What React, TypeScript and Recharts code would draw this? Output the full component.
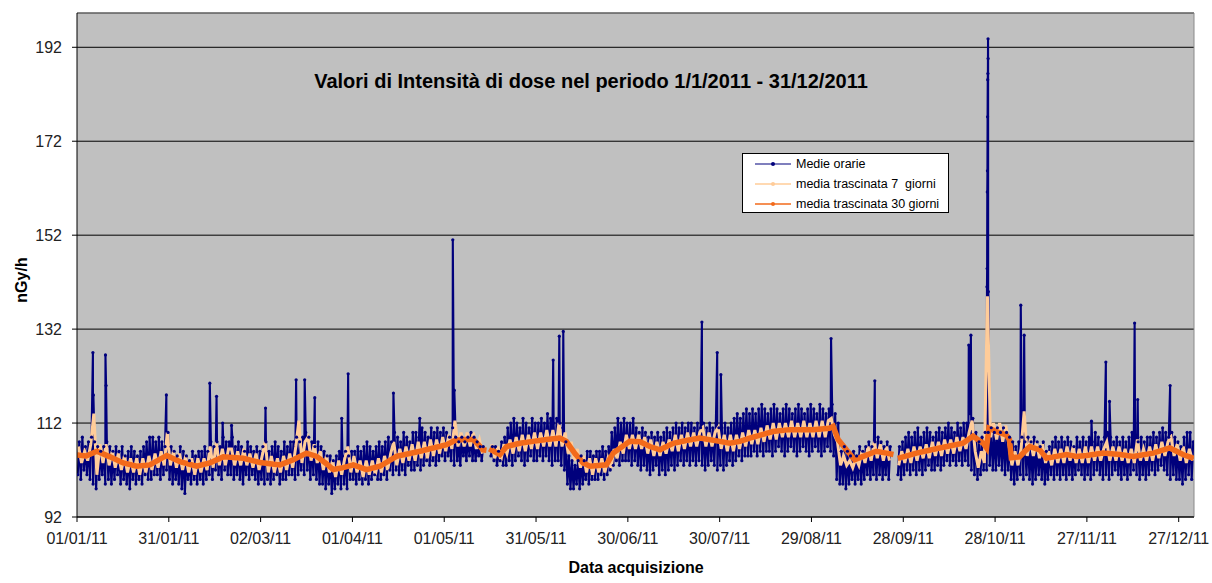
import { LineChart, Line, XAxis, YAxis, CartesianGrid, ReferenceLine } from 'recharts';

// asse x: giorni dal 01/01/2011
const tickDays = [0, 30, 60, 90, 120, 150, 180, 210, 240, 270, 300, 330, 360];
const tickLabels = [
  '01/01/11', '31/01/11', '02/03/11', '01/04/11', '01/05/11', '31/05/11', '30/06/11',
  '30/07/11', '29/08/11', '28/09/11', '28/10/11', '27/11/11', '27/12/11'
];
const yTicks = [92, 112, 132, 152, 172, 192];

// medie orarie: minimo e massimo letti per ogni giorno (nGy/h)
const dailyLow = [
  101, 100, 102, 101, 100, 99, 98, 100, 101, 99,
  100, 99, 100, 101, 99, 100, 99, 98, 100, 99,
  100, 99, 101, 100, 100, 101, 101, 100, 101, 102,
  100, 99, 100, 99, 98, 97, 100, 99, 100, 99,
  100, 99, 100, 101, 100, 102, 101, 100, 102, 101,
  101, 100, 101, 100, 99, 101, 100, 101, 100, 99,
  100, 99, 100, 99, 100, 101, 99, 100, 100, 101,
  101, 100, 101, 102, 101, 102, 100, 101, 100, 99,
  99, 98, 99, 97, 98, 99, 98, 99, 98, 100,
  100, 99, 100, 99, 100, 99, 100, 101, 100, 100,
  101, 100, 102, 101, 102, 101, 102, 101, 103, 102,
  102, 103, 102, 103, 104, 103, 104, 103, 104, 105,
  104, 105, 104, 103, 104, 103, 105, 104, 105, 104,
  104, 105, 104, null, null, 105, 104, 103, 104, 103,
  103, 104, 103, 104, 105, 104, 103, 104, 105, 104,
  104, 105, 104, 105, 104, 103, 104, 104, 103, 102,
  99, 98, 98, 99, 98, 99, 100, 99, 100, 100,
  100, 101, 100, 101, 102, 103, 104, 103, 104, 104,
  104, 103, 104, 103, 102, 103, 102, 101, 102, 103,
  101, 102, 101, 102, 103, 102, 103, 104, 103, 104,
  103, 104, 103, 104, 103, 102, 103, 104, 103, 102,
  103, 102, 103, 104, 103, 104, 105, 104, 105, 105,
  105, 106, 105, 106, 105, 106, 106, 105, 106, 107,
  106, 105, 106, 107, 106, 105, 106, 107, 106, 105,
  106, 107, 106, 105, 106, 107, 106, 105, 100, 99,
  99, 98, 99, 100, 99, 100, 99, 100, 101, 100,
  101, 100, 101, 100, 101, 100, null, null, 101, 100,
  101, 102, 101, 102, 101, 102, 101, 102, 103, 102,
  102, 103, 102, 103, 104, 103, 104, 103, 104, 103,
  104, 103, 102, 101, 100, 101, 102, 102, 103, 102,
  102, 103, 102, 101, 102, 100, 99, 100, 101, 100,
  101, 100, 99, 100, 101, 100, 99, 100, 101, 100,
  101, 100, 101, 100, 101, 100, 101, 102, 101, 100,
  101, 100, 101, 102, 101, 100, 101, 100, 101, 102,
  101, 100, 101, 100, 101, 102, 101, 100, 101, 100,
  101, 102, 101, 102, 103, 102, 101, 100, 101, 100,
  100, 99, 100, 101, 100
];
const dailyHigh = [
  108, 109, 107, 108, 109, 108, 107, 106, 107, 108,
  107, 106, 107, 106, 107, 105, 106, 107, 106, 105,
  106, 107, 108, 109, 109, 108, 109, 108, 107, 110,
  107, 106, 105, 107, 106, 105, 104, 106, 105, 106,
  106, 107, 106, 108, 107, 108, 107, 109, 108, 108,
  109, 107, 108, 107, 106, 108, 107, 106, 107, 106,
  107, 108, 106, 107, 108, 107, 106, 108, 107, 108,
  108, 109, 108, 109, 110, 109, 108, 107, 108, 107,
  106, 105, 105, 104, 105, 106, 105, 106, 105, 106,
  106, 107, 106, 107, 108, 107, 106, 107, 108, 107,
  108, 109, 108, 110, 109, 108, 110, 109, 108, 110,
  110, 109, 111, 110, 109, 111, 110, 111, 110, 111,
  110, 109, 111, 109, 108, 109, 108, 109, 110, 109,
  108, 107, 107, null, null, 107, 107, 106, 108, 109,
  111, 112, 113, 112, 111, 113, 112, 111, 113, 112,
  112, 113, 112, 114, 113, 112, 113, 112, 111, 108,
  105, 104, 103, 104, 105, 104, 106, 106, 105, 106,
  106, 107, 106, 107, 110, 111, 113, 112, 113, 112,
  112, 113, 111, 110, 111, 110, 109, 110, 109, 110,
  109, 110, 111, 110, 111, 112, 111, 112, 111, 112,
  112, 111, 112, 111, 112, 111, 112, 111, 112, 111,
  111, 112, 111, 112, 113, 114, 113, 114, 115, 114,
  115, 114, 115, 116, 115, 114, 115, 116, 115, 114,
  115, 116, 115, 114, 115, 116, 115, 114, 115, 116,
  115, 114, 116, 115, 114, 115, 116, 114, 112, 106,
  107, 106, 105, 106, 105, 107, 106, 107, 108, 107,
  108, 109, 108, 107, 108, 107, null, null, 107, 108,
  109, 110, 109, 110, 111, 109, 110, 111, 110, 109,
  110, 111, 110, 111, 112, 111, 110, 112, 111, 112,
  112, 114, 113, 110, 108, 109, 110, 110, 111, 110,
  111, 110, 111, 110, 109, 108, 107, 108, 109, 108,
  109, 108, 109, 108, 107, 108, 106, 107, 108, 109,
  108, 109, 108, 109, 108, 107, 109, 108, 109, 108,
  109, 108, 110, 109, 108, 109, 110, 109, 108, 109,
  108, 109, 108, 109, 110, 109, 108, 109, 108, 109,
  109, 110, 109, 110, 111, 110, 109, 110, 109, 108,
  107, 109, 110, 110, 108
];
// picchi delle medie orarie [giorno, valore]
const spikes: [number, number][] = [
  [5.2, 127], [5.35, 118], [9.3, 126.5], [9.5, 120], [29.2, 118], [43.4, 120.5],
  [45.6, 117.7], [47.6, 112], [50.5, 111.5], [61.6, 115.2], [71.6, 121.2], [74.4, 121.2],
  [77.7, 117.4], [86.5, 113], [88.6, 122.5], [103.4, 118.4], [112, 113], [122.8, 151],
  [123.3, 119], [155.6, 125.4], [157.6, 130.5], [158.9, 131.5], [204.2, 133.5],
  [209.2, 127], [210.4, 122.3], [246.4, 130], [260.7, 121], [291.4, 128.6], [292.1, 130.7],
  [297.35, 141], [297.4, 144.9], [297.45, 161.2], [297.5, 165.7], [297.55, 177.2],
  [297.6, 185.1], [297.65, 186.4], [297.7, 193.8], [297.72, 189.6], [297.8, 140],
  [308.4, 137.1], [309.5, 130.7], [331.5, 112.4], [336.2, 125], [337.4, 116.6],
  [345.6, 133.3], [346.6, 117], [357.2, 120]
];

// media trascinata 7 giorni, un valore per giorno
const avg7 = [
  107, 103.5, 106, 104, 107.5, 114, 101, 107.5, 103.5, 107.5,
  103, 106, 102.5, 105.5, 102, 105, 101.5, 104.5, 101.5, 104.5,
  101, 104.5, 101.5, 105, 102, 105.5, 102.5, 106, 103, 110,
  103, 106, 102.5, 105.5, 102, 105, 101.5, 104.5, 101, 104.5,
  101.5, 104.5, 102, 107, 102.5, 108, 103, 106.5, 103, 106.5,
  106.5, 103, 106, 103, 106.5, 103, 105.5, 102.5, 105.5, 102,
  105, 108, 101.5, 105, 101.5, 104.5, 101.5, 105, 102, 105.5,
  102.5, 107, 112.5, 103.5, 108, 109, 104, 107.5, 103.5, 106,
  102, 105, 101.5, 104, 100.5, 104, 101, 104.5, 107, 101.5,
  105, 101.5, 104, 100.5, 104, 101, 104, 101, 104.5, 101.5,
  105, 102, 105.5, 108, 103, 106.5, 103.5, 107, 104, 107.5,
  104, 108, 104.5, 108, 104.5, 108.5, 105, 108.5, 105.5, 109,
  106, 109.5, 106.5, 112.5, 107, 110, 107, 110, 107, 110,
  106.5, 108.5, 105.5, null, null, 107.5, 104.5, 107, 104, 107.5,
  105.5, 108.5, 105.5, 109, 106, 109.5, 106, 109.5, 106.5, 110,
  106.5, 110, 107, 110.5, 107, 110.5, 107, 112, 107, 110,
  105.5, 108, 104, 106.5, 102.5, 105, 101.5, 104.5, 101, 104.5,
  101.5, 104.5, 101.5, 104.5, 102.5, 106.5, 104.5, 108, 105.5, 109.5,
  106.5, 109.5, 106.5, 109.5, 106.5, 109, 105.5, 108.5, 105, 108,
  105, 108, 105.5, 108.5, 106, 109.5, 106, 109.5, 106.5, 110,
  107, 110, 107, 110, 111, 107, 110, 107, 110, 111,
  106.5, 109.5, 106, 109.5, 106, 109.5, 106.5, 110, 107, 110.5,
  107.5, 110.5, 107.5, 111, 108, 111.5, 108.5, 112, 108.5, 112,
  109, 112, 109, 112.5, 109, 112, 109, 112.5, 109, 112,
  109, 112.5, 109, 112.5, 109, 112.5, 113, 109.5, 108, 103,
  105, 103, 104, 102.5, 104.5, 103, 106, 103.5, 107, 104,
  108, 104.5, 107.5, 104, 107, 104, null, null, 103, 106,
  103.5, 106.5, 103.5, 107, 104, 107, 104.5, 107.5, 104.5, 108,
  105, 108, 105, 108.5, 105.5, 108.5, 105.5, 109, 106, 109,
  106.5, 110, 112.5, 106, 102.5, 106, 103.5, 139, 109, 112,
  108.5, 112, 108, 111.5, 107.5, 103, 106, 103, 106.5, 114.5,
  105, 108.5, 105, 108, 104.5, 107.5, 103.5, 106, 103, 106.5,
  103.5, 106.5, 103.5, 107, 104, 107, 103.5, 106.5, 103.5, 107,
  103.5, 107, 104, 107, 104, 106.5, 108, 104, 107, 104,
  107, 104, 106.5, 103.5, 106.5, 103.5, 108.5, 104, 106.5, 104,
  107, 104, 107.5, 104.5, 108, 105, 108, 109, 105, 107.5,
  104, 107, 103.5, 106.5, 104
];

// media trascinata 30 giorni [giorno, valore]
const avg30: [number, number | null][] = [
  [0, 105.2], [3, 105], [6.5, 106], [10.8, 104.8], [15.1, 103.5], [19.5, 102.8], [23.8, 103.1],
  [29.3, 105.1], [33.6, 103.8], [39.1, 102.8], [43.4, 103.5], [47.8, 104.8], [54.3, 104.5],
  [59.8, 103.6], [66.3, 103.1], [70.7, 104.2], [75, 105.6], [78.3, 104.9], [81.6, 103.3],
  [83.7, 102.1], [87, 102.5], [90.3, 103.1], [94.6, 102.1], [99, 102.8], [104.4, 104.9],
  [112.1, 106], [120.8, 107.4], [123.5, 108.3], [126.2, 108.5], [129.5, 108.5], [131, 107.5],
  [132.7, 106.3], [133.8, 106.2], [134.2, null], [134.7, 106.5], [138.2, 105.3], [140.4, 107],
  [144.7, 107.7], [149, 108.1], [153.4, 108.5], [157.8, 108.8], [159.9, 108.1], [162.7, 105.5],
  [165.4, 103.5], [167.6, 102.8], [173, 103.1], [175.2, 105.6], [180.6, 108.1], [184, 108],
  [187.2, 107], [190.5, 106.3], [194.8, 107.7], [199.1, 108.3], [203.5, 108.8], [210, 108.1],
  [213.3, 107.7], [216.6, 108.1], [219.8, 108.8], [224.2, 109.6], [227.4, 110.2], [232.9, 110.6],
  [240.5, 110.6], [245.9, 110.9], [247.1, 111.3], [248.7, 108.5], [251.4, 106.3], [254.1, 104.2],
  [256.9, 104.9], [261.2, 106], [264.5, 105.6], [266.8, 105.3], [267.5, null], [268.2, 104.5],
  [274.3, 105.6], [281.9, 106.7], [289.5, 107.7], [292.8, 109.2], [296.1, 107.7], [297.2, 106.7],
  [298, 110.9], [300.4, 110.2], [303.6, 109.5], [304.7, 108.5], [305.3, 104.6], [308, 104.8],
  [310.2, 106.3], [311.4, 107], [314.6, 106.3], [316.8, 104.5], [320.1, 104.9], [323.3, 105.3],
  [326.6, 104.9], [329.9, 105.1], [335.3, 105.6], [340.8, 105.3], [345.1, 104.9], [351.6, 105.6],
  [357.1, 106.7], [361.4, 105.3], [364.9, 104.5]
];

const hourlyData = (() => {
  const rows: { d: number; v: number | null }[] = [];
  dailyLow.forEach((lo, i) => {
    rows.push({ d: i + 0.25, v: lo });
    rows.push({ d: i + 0.75, v: dailyHigh[i] });
  });
  spikes.forEach(([d, v]) => rows.push({ d, v }));
  return rows.sort((a, b) => a.d - b.d);
})();
const avg7Data = avg7.map((v, i) => ({ d: i + 0.5, v }));
const avg30Data = avg30.map(([d, v]) => ({ d, v }));

const BLUE = '#00007C';
const PEACH = '#FFCC99';
const ORANGE = '#F26A1B';
const FONT = '"Liberation Sans", Arial, sans-serif';

function LegendRow({ color, width, label, y }: { color: string; width: number; label: string; y: number }) {
  return (
    <div style={{ position: 'absolute', left: 0, top: y, height: 16, width: 206 }}>
      <svg width={40} height={16} style={{ position: 'absolute', left: 12, top: 0 }}>
        <line x1={0} y1={8} x2={36} y2={8} stroke={color} strokeWidth={width} />
        <circle cx={18} cy={8} r={2} fill={color} />
      </svg>
      <span style={{ position: 'absolute', left: 53, top: 0, fontSize: 12.5, lineHeight: '16px', whiteSpace: 'pre', color: '#000' }}>
        {label}
      </span>
    </div>
  );
}

export default function App() {
  return (
    <div style={{ position: 'relative', width: 1212, height: 583, background: '#fff', fontFamily: FONT }}>
      <style>{'body{margin:0}'}</style>
      <LineChart width={1212} height={583} margin={{ top: 13, right: 18, bottom: 36, left: 0 }}>
        <CartesianGrid horizontal vertical={false} stroke="#000" fill="#C0C0C0" fillOpacity={1} />
        <XAxis
          type="number"
          dataKey="d"
          domain={[0, 365]}
          ticks={tickDays}
          tickFormatter={(v: number) => tickLabels[tickDays.indexOf(v)] ?? ''}
          allowDataOverflow
          height={30}
          stroke="#000"
          tickSize={5}
          tickMargin={11}
          tick={{ fontSize: 16, fill: '#222', fontFamily: FONT }}
        />
        <YAxis
          type="number"
          domain={[92, 199.3]}
          ticks={yTicks}
          allowDataOverflow
          width={77}
          stroke="#000"
          tickSize={5}
          tickMargin={10}
          tick={{ fontSize: 16, fill: '#222', fontFamily: FONT }}
        />
        <ReferenceLine y={199.3} stroke="#8a8a8a" />
        <ReferenceLine x={365} stroke="#8a8a8a" />
        <Line
          data={hourlyData}
          dataKey="v"
          stroke={BLUE}
          strokeWidth={2.1}
          dot={{ r: 1.6, fill: BLUE, stroke: 'none' }}
          activeDot={false}
          isAnimationActive={false}
          connectNulls={false}
        />
        <Line
          data={avg7Data}
          dataKey="v"
          stroke={PEACH}
          strokeWidth={3}
          dot={false}
          activeDot={false}
          isAnimationActive={false}
          connectNulls={false}
        />
        <Line
          data={avg30Data}
          dataKey="v"
          stroke={ORANGE}
          strokeWidth={5.5}
          dot={false}
          activeDot={false}
          isAnimationActive={false}
          connectNulls={false}
        />
      </LineChart>

      <div style={{ position: 'absolute', left: 291, top: 70, width: 600, textAlign: 'center', fontSize: 20, fontWeight: 'bold', color: '#000' }}>
        Valori di Intensità di dose nel periodo 1/1/2011 - 31/12/2011
      </div>
      <div style={{ position: 'absolute', left: 22, top: 280, transform: 'translate(-50%, -50%) rotate(-90deg)', fontSize: 16, fontWeight: 'bold', whiteSpace: 'nowrap' }}>
        nGy/h
      </div>
      <div style={{ position: 'absolute', left: 636, top: 568, transform: 'translate(-50%, -50%)', fontSize: 16, fontWeight: 'bold', whiteSpace: 'nowrap' }}>
        Data acquisizione
      </div>

      <div style={{ position: 'absolute', left: 742, top: 153, width: 207, height: 60, background: '#fff', border: '1px solid #000', boxSizing: 'border-box' }}>
        <LegendRow color={BLUE} width={1.2} label="Medie orarie" y={2} />
        <LegendRow color={PEACH} width={1.5} label="media trascinata 7  giorni" y={22} />
        <LegendRow color={ORANGE} width={1.5} label="media trascinata 30 giorni" y={42} />
      </div>
    </div>
  );
}
